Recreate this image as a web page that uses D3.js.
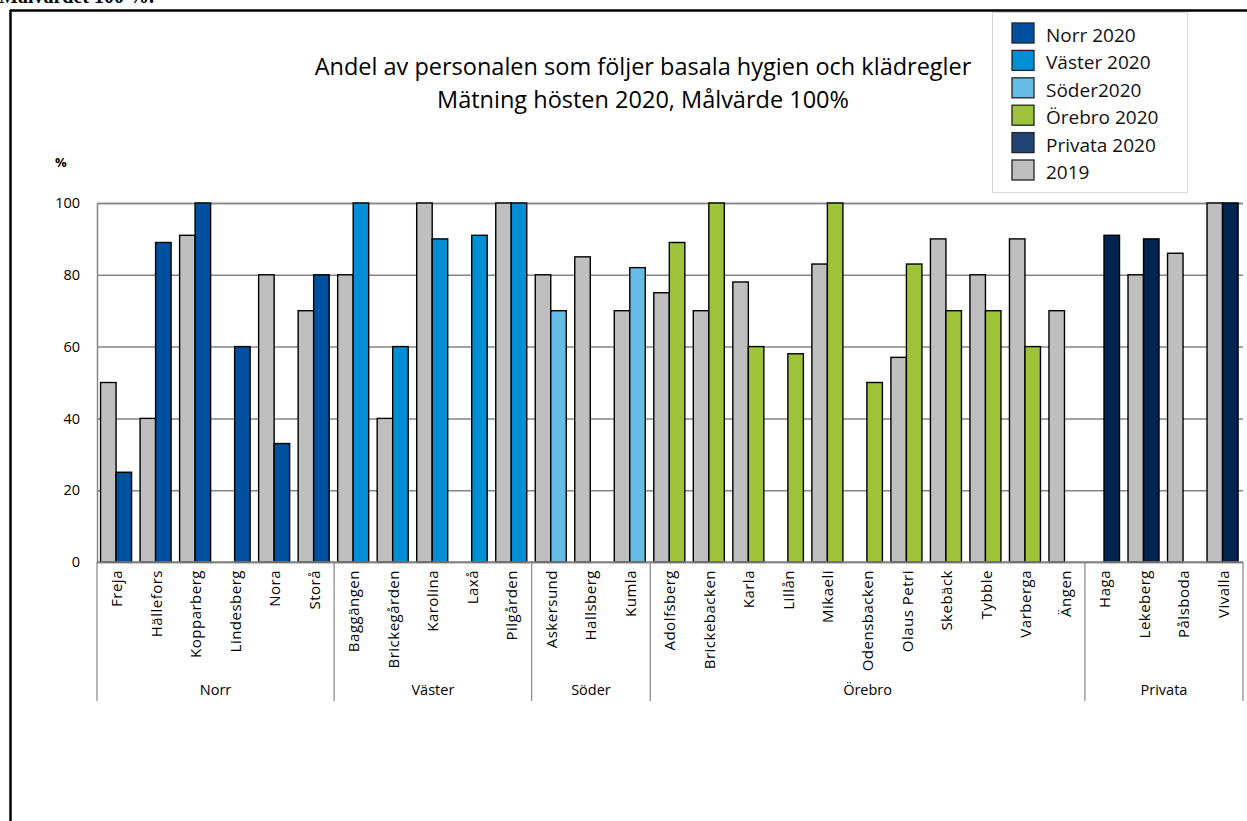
<!DOCTYPE html>
<html><head><meta charset="utf-8">
<script src="https://cdn.jsdelivr.net/npm/d3@7"></script>
<style>
html,body{margin:0;padding:0;background:#fff;}
svg{display:block;}
</style></head>
<body>
<svg id="chart" width="1247" height="821"></svg>
<script>
// ---- data ----
const categories = ["Freja","Hällefors","Kopparberg","Lindesberg","Nora","Storå",
  "Baggängen","Brickegården","Karolina","Laxå","Pilgården",
  "Askersund","Hallsberg","Kumla",
  "Adolfsberg","Brickebacken","Karla","Lillån","Mikaeli","Odensbacken","Olaus Petri","Skebäck","Tybble","Varberga","Ängen",
  "Haga","Lekeberg","Pålsboda","Vivalla"];
const groupNames = ["Norr","Väster","Söder","Örebro","Privata"];
const groupSizes = [6,5,3,11,4];
const values2019 = [50,40,91,null,80,70,
  80,40,100,null,100,
  80,85,70,
  75,70,78,null,83,null,57,90,80,90,70,
  null,80,86,100];
const values2020 = [25,89,100,60,33,80,
  100,60,90,91,100,
  70,null,82,
  89,100,60,58,100,50,83,70,70,60,null,
  91,90,null,100];
const legendLabels = ["Norr 2020","Väster 2020","Söder2020","Örebro 2020","Privata 2020","2019"];
const yTicks = [0,20,40,60,80,100];
const titleLines = ["Andel av personalen som följer basala hygien och klädregler","Mätning hösten 2020, Målvärde 100%"];

// ---- styles ----
const groupColors = ["#0050A0","#008FD5","#66BCE5","#9DC33B","#002550"];
const legendColors = ["#0050A0","#008FD5","#66BCE5","#9DC33B","#1F4576","#BFBFBF"];
const gray = "#BFBFBF";
const font = "'Open Sans', 'DejaVu Sans', sans-serif";

const svg = d3.select("#chart");

// cut-off heading text at very top
svg.append("text").attr("x",-1).attr("y",3)
  .style("font-family","'Liberation Serif', serif").style("font-weight","bold").style("font-size","20px")
  .text("Målvärdet 100 %.");

// frame
svg.append("line").attr("x1",10).attr("x2",1247).attr("y1",10.5).attr("y2",10.5).attr("stroke","#000").attr("stroke-width",2.5);
svg.append("line").attr("x1",10.5).attr("x2",10.5).attr("y1",10).attr("y2",821).attr("stroke","#000").attr("stroke-width",2.5);

// group of each category
const catGroup = [];
groupSizes.forEach((n,gi)=>{ for(let i=0;i<n;i++) catGroup.push(gi); });

const pL = 97, pR = 1243, pT = 203, pB = 562;
const x = d3.scaleBand().domain(categories).range([pL,pR]).paddingInner(0).paddingOuter(0);
const bw = x.bandwidth();
const xs = d3.scaleBand().domain(["2019","2020"]).range([bw*0.09, bw*0.875]).padding(0);
const y = d3.scaleLinear().domain([0,100]).range([pB, pT]);

// gridlines
const yAxis = d3.axisLeft(y).tickValues(yTicks).tickSize(-(pR-pL)).tickPadding(17).tickFormat(d3.format("d"));
const gy = svg.append("g").attr("transform",`translate(${pL},0)`).call(yAxis);
gy.select(".domain").attr("stroke","#868686").attr("stroke-width",1.5);
gy.selectAll(".tick line").attr("stroke","#868686").attr("stroke-width",1.5);
gy.selectAll(".tick text").style("font-family",font).style("font-size","14.5px").attr("fill","#000");

svg.append("text").attr("x",55).attr("y",167).style("font-family",font).style("font-weight","bold").style("font-size","13px").text("%");

// bars
const rows = categories.map((c,i)=>({c, g:catGroup[i], v19:values2019[i], v20:values2020[i]}));
const gBars = svg.append("g");
rows.forEach(r=>{
  if(r.v19!=null){
    gBars.append("rect").attr("x",x(r.c)+xs("2019")).attr("width",xs.bandwidth())
      .attr("y",y(r.v19)).attr("height",y(0)-y(r.v19))
      .attr("fill",gray).attr("stroke","#000").attr("stroke-width",1.4);
  }
  if(r.v20!=null){
    gBars.append("rect").attr("x",x(r.c)+xs("2020")).attr("width",xs.bandwidth())
      .attr("y",y(r.v20)).attr("height",y(0)-y(r.v20))
      .attr("fill",groupColors[r.g]).attr("stroke","#000").attr("stroke-width",1.4);
  }
});

// x axis baseline
svg.append("line").attr("x1",pL).attr("x2",pR).attr("y1",y(0)).attr("y2",y(0)).attr("stroke","#868686").attr("stroke-width",1.5);

// category labels
categories.forEach(c=>{
  svg.append("text")
    .attr("transform",`translate(${x(c)+bw/2},570) rotate(-90)`)
    .attr("text-anchor","end").attr("dy","0.36em")
    .style("font-family",font).style("font-size","15px").style("letter-spacing","0.5px")
    .text(c);
});

// group separators and labels
let start = 0;
const bounds = [pL];
groupSizes.forEach((n,gi)=>{
  const x0 = x(categories[start]);
  const x1 = x(categories[start+n-1]) + bw;
  bounds.push(x1);
  svg.append("text").attr("x",(x0+x1)/2).attr("y",695).attr("text-anchor","middle")
    .style("font-family",font).style("font-size","14.5px").text(groupNames[gi]);
  start += n;
});
bounds.forEach(b=>{
  svg.append("line").attr("x1",b).attr("x2",b).attr("y1",y(0)).attr("y2",701).attr("stroke","#868686").attr("stroke-width",1.2);
});

// title
titleLines.forEach((t,i)=>{
  svg.append("text").attr("x",643).attr("y",75+i*33).attr("text-anchor","middle")
    .style("font-family",font).style("font-size","23.5px").text(t);
});

// legend
const lg = svg.append("g");
lg.append("rect").attr("x",992.5).attr("y",12.5).attr("width",195).attr("height",180).attr("fill","#fff").attr("stroke","#d9d9d9");
legendLabels.forEach((l,i)=>{
  const yy = 23 + i*27.4;
  lg.append("rect").attr("x",1012).attr("y",yy).attr("width",22).attr("height",20)
    .attr("fill",legendColors[i]).attr("stroke","#222").attr("stroke-width",1.3);
  lg.append("text").attr("x",1046).attr("y",yy+19).style("font-family",font).style("font-size","19px").attr("fill","#111").text(l);
});
</script>
</body></html>
